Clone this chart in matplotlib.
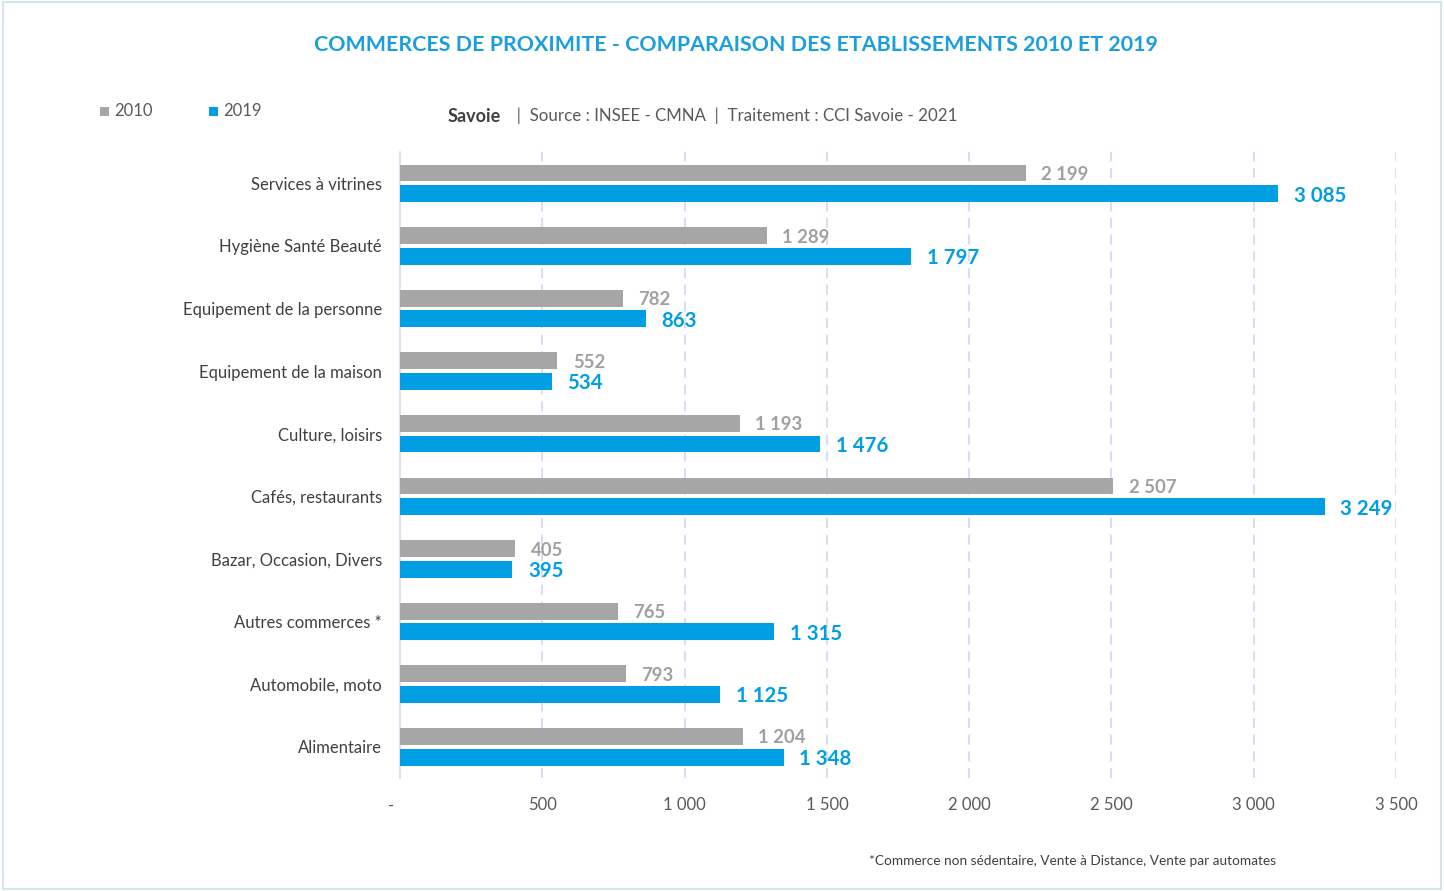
import matplotlib
matplotlib.use("Agg")
import matplotlib.pyplot as plt
from matplotlib.patches import Rectangle
from matplotlib.transforms import ScaledTranslation
import numpy as np

categories = ["Services à vitrines", "Hygiène Santé Beauté", "Equipement de la personne",
              "Equipement de la maison", "Culture, loisirs", "Cafés, restaurants",
              "Bazar, Occasion, Divers", "Autres commerces *", "Automobile, moto", "Alimentaire"]
values_2010 = [2199, 1289, 782, 552, 1193, 2507, 405, 765, 793, 1204]
values_2019 = [3085, 1797, 863, 534, 1476, 3249, 395, 1315, 1125, 1348]
xticks = [0, 500, 1000, 1500, 2000, 2500, 3000, 3500]

GRAY = "#a6a6a6"
BLUE = "#009fe3"
TITLE_BLUE = "#1a9fdc"
TXT = "#404040"

plt.rcParams['font.family'] = ['Lato', 'DejaVu Sans']

def fmt(v):
    return f"{v:,}".replace(",", " ")

fig = plt.figure(figsize=(14.44, 8.91), dpi=100)
fig.patches.append(Rectangle((0.002, 0.002), 0.996, 0.996, transform=fig.transFigure,
                             fill=False, edgecolor="#d6e4ec", linewidth=1.5))

ax = fig.add_axes([0.277, 0.1268, 0.6898, 0.7026])
n = len(categories)
y = np.arange(n)
h = 0.27
off = 0.165
ax.barh(y - off, values_2010, height=h, color=GRAY, zorder=3)
ax.barh(y + off, values_2019, height=h, color=BLUE, zorder=3)

for yi, v in zip(y, values_2010):
    ax.text(v + 55, yi - off, fmt(v), va="center_baseline", ha="left", color="#a0a0a0",
            fontsize=13.3, fontweight="bold", zorder=4)
for yi, v in zip(y, values_2019):
    ax.text(v + 55, yi + off, fmt(v), va="center_baseline", ha="left", color=BLUE,
            fontsize=14.7, fontweight="bold", zorder=4)

ax.set_ylim(n - 0.5, -0.5)
ax.set_xlim(0, 3500)
ax.set_yticks(y)
ax.set_yticklabels(categories, fontsize=12, color=TXT)
ax.set_xticks(xticks)
ax.set_xticklabels(["-"] + [fmt(t) for t in xticks[1:]], fontsize=12, color="#595959")
ax.tick_params(axis="both", length=0)
ax.tick_params(axis="y", pad=13)
ax.tick_params(axis="x", pad=14)
lbl0 = ax.get_xticklabels()[0]
lbl0.set_transform(lbl0.get_transform() + ScaledTranslation(-0.09, 0, fig.dpi_scale_trans))
for s in ["top", "right", "bottom"]:
    ax.spines[s].set_visible(False)
ax.spines["left"].set_color("#d9d9f0")
ax.spines["left"].set_linewidth(1.2)
for t in xticks[1:]:
    ax.axvline(t, color="#d4d4f2", linewidth=1.2, linestyle=(0, (6, 4)), zorder=1)

fig.text(0.5097, 1 - 45/891, "COMMERCES DE PROXIMITE - COMPARAISON DES ETABLISSEMENTS 2010 ET 2019",
         ha="center", va="center", color=TITLE_BLUE, fontsize=15.4, fontweight="bold")

# legend
fig.patches.append(Rectangle((100/1444, 1 - 116/891), 9/1444, 9/891, transform=fig.transFigure,
                             facecolor=GRAY, edgecolor="none"))
fig.text(114/1444, 1 - 111/891, "2010", ha="left", va="center", color="#595959", fontsize=12)
fig.patches.append(Rectangle((209/1444, 1 - 116/891), 9/1444, 9/891, transform=fig.transFigure,
                             facecolor=BLUE, edgecolor="none"))
fig.text(223/1444, 1 - 111/891, "2019", ha="left", va="center", color="#595959", fontsize=12)

fig.text(448/1444, 1 - 116/891, "Savoie", ha="left", va="center", color=TXT,
         fontsize=13, fontweight="bold")
fig.text(508/1444, 1 - 116/891, "  |  Source : INSEE - CMNA  |  Traitement : CCI Savoie - 2021",
         ha="left", va="center", color="#595959", fontsize=12.2)

fig.text(1276/1444, 1 - 861/891, "*Commerce non sédentaire, Vente à Distance, Vente par automates",
         ha="right", va="center", color=TXT, fontsize=9.8)

fig.savefig("out.png", dpi=100)
